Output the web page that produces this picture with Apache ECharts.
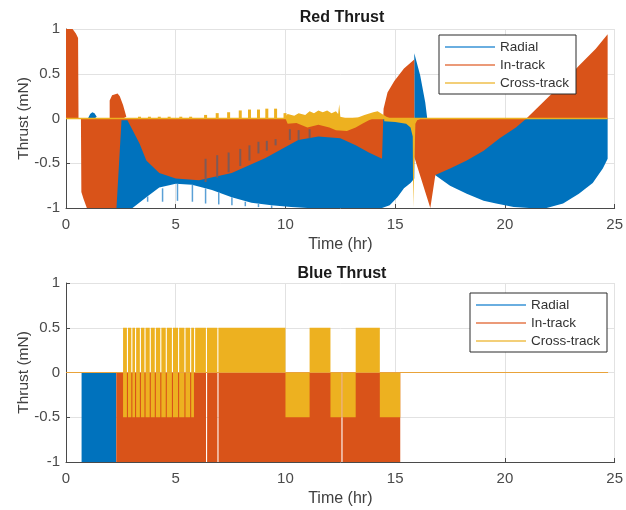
<!DOCTYPE html>
<html><head><meta charset="utf-8">
<script src="https://cdn.jsdelivr.net/npm/echarts@6/dist/echarts.min.js"></script>
<style>html,body{margin:0;padding:0;background:#fff}#c{width:626px;height:510px}</style>
</head><body><div id="c"></div>
<script>
// ---------- Red Thrust (top) : envelopes of the dense thrust traces, null breaks pieces ----------
var redRadialT = [1.0,1.1,1.2,1.3,1.4,1.45, null,
  2.0,2.0,3.03,3.66,4.25,5.0,5.74,6.65,7.55,8.45,9.36,10.26,11.0,14.4,14.47,14.75,15.1,15.4,15.7,15.87,15.87,16.14,16.37,16.46, null,
  16.75,16.75,17.5,18.26,19.03,19.6,20.4,21.1,21.9,22.65,23.37,24.0,24.46,24.68,24.68];
var redRadialV = [0,0.05,0.07,0.06,0.02,0, null,
  0,-1.0,-1.0,-0.88,-0.77,-0.73,-0.74,-0.8,-0.88,-0.94,-0.97,-0.99,-1.0,-1.0,-1.0,-0.97,-0.88,-0.78,-0.72,-0.67,0.73,0.48,0.18,0, null,
  0,-0.62,-0.75,-0.84,-0.92,-0.95,-0.99,-1.0,-1.0,-0.95,-0.84,-0.72,-0.56,-0.45,0];

var redInT = [0,0,0.3,0.45,0.55,0.57, null,
  0.68,0.7,0.8,0.95,2.3,2.53,2.8,3.35,3.66,4.25,5.0,6.06,7.55,9.09,10.58,11.5,12.5,13.2,13.8,14.4,14.47,14.47,14.65,14.96,15.4,15.87,15.87,
  16.6,16.83,17.5,18.26,19.03,19.76,20.5,20.98,21.9,22.65,23.37,24.14,24.68,24.68, null,
  1.99,1.99,2.1,2.35,2.45,2.6,2.75,2.8];
var redInV = [0,1.0,1.0,0.95,0.9,0, null,
  0,-0.82,-0.9,-1.0,-1.0,-0.02,-0.02,-0.28,-0.47,-0.61,-0.67,-0.69,-0.61,-0.44,-0.24,-0.2,-0.22,-0.3,-0.38,-0.45,-0.46,0.11,0.29,0.42,0.56,0.66,-0.43,
  -1.0,-0.63,-0.56,-0.47,-0.36,-0.22,-0.1,0,0.22,0.40,0.59,0.78,0.94,0, null,
  0,0.2,0.26,0.28,0.25,0.15,0.02,0];

var redCrossT = [9.9,10.1,10.4,10.6,10.9,11.1,11.3,11.5,11.7,11.9,12.1,12.3,12.4,12.45,12.5,12.8,13.3,13.6,14.0,14.2,14.4,14.6,14.8, null,
  10.0,10.1,10.5,11.0,11.5,12.0,12.3,12.8,13.2,13.5,13.8,14.0, null,
  14.5,14.5,15.0,15.5,15.7,15.8,15.82,15.9,15.92,16.0,16.2];
var redCrossV = [0,0.05,0.03,0.06,0.04,0.08,0.06,0.09,0.07,0.09,0.06,0.08,0.05,0.16,0.02,0,0.01,0.04,0.07,0.08,0.05,0.02,0, null,
  0,-0.06,-0.05,-0.1,-0.07,-0.1,-0.13,-0.14,-0.1,-0.06,-0.02,0, null,
  0,-0.03,-0.04,-0.06,-0.1,-0.2,-1.0,-1.0,-0.06,-0.02,0];
var redZeroLineT = [0,24.68];

// thin spikes visible in the dense traces
var redYelSpikeT = [3.35,3.8,4.25,4.7,5.23,5.68,6.36,6.89,7.41,7.94,8.36,8.77,9.15,9.55,9.98];
var redYelSpikeH = [0.02,0.02,0.02,0.02,0.02,0.02,0.04,0.06,0.07,0.09,0.1,0.1,0.11,0.11,0.06];
var redDarkSpikeT   = [6.36,6.89,7.41,7.94,8.36,8.77,9.15,9.55,10.2,10.6,11.1];
var redDarkSpikeTop = [-0.45,-0.41,-0.38,-0.34,-0.3,-0.26,-0.25,-0.23,-0.12,-0.13,-0.12];
var redDarkSpikeBot = [-0.71,-0.66,-0.6,-0.53,-0.47,-0.39,-0.36,-0.3,-0.24,-0.24,-0.22];
var redBlueSpikeT   = [3.72,4.4,5.08,5.76,6.36,6.96,7.56,8.17,8.77,9.37];
var redBlueSpikeTop = [-0.87,-0.78,-0.73,-0.74,-0.78,-0.82,-0.88,-0.93,-0.95,-0.97];
var redBlueSpikeBot = [-0.93,-0.93,-0.92,-0.93,-0.95,-0.96,-0.97,-0.98,-0.99,-1.0];

// ---------- Blue Thrust (bottom) : constant-thrust blocks [start, end, value] ----------
var blueRadialStart = [0.71];
var blueRadialEnd   = [2.29];
var blueRadialVal   = [-1];
var blueInStart = [2.29,6.43,6.95,12.6];
var blueInEnd   = [6.38,6.9,12.55,15.23];
var blueInVal   = [-1,-1,-1,-1];
var blueCrossPosBreaks = [2.6,2.8,3.0,3.17,3.39,3.6,3.84,4.07,4.32,4.57,4.85,5.13,5.42,5.68,5.86,6.4,6.92,10.0];
var blueCrossNegBreaks = [2.6,2.8,3.0,3.17,3.39,3.6,3.84,4.07,4.32,4.57,4.85,5.13,5.42,5.68,5.83];
var blueCrossStart = [10.0,11.1,12.05,12.6,13.2,14.3];
var blueCrossEnd   = [11.1,12.05,12.55,13.2,14.3,15.23];
var blueCrossVal   = [-0.5,0.5,-0.5,-0.5,0.5,-0.5];
var blueZeroLineT = [0,24.7];

var xTicks = [0,5,10,15,20,25];
var yTicks = [-1,-0.5,0,0.5,1];

var C_BLUE='#0072BD', C_ORANGE='#D95319', C_YELLOW='#EDB120';
var FONT='"Liberation Sans", Arial, sans-serif';

function pairs(T,V){ return T.map(function(t,i){ return t===null ? ['-','-'] : [t, V[i]]; }); }
function triples(A,B,C){ return A.map(function(a,i){ return [a,B[i],C[i]]; }); }
function stripes(breaks, val, gap){
  var out=[];
  for(var i=0;i<breaks.length-1;i++){
    var s=breaks[i]+(i>0?gap/2:0), e=breaks[i+1]-(i<breaks.length-2?gap/2:0);
    out.push([s,e,val]);
  }
  return out;
}

function areaSeries(name, T, V, color, gi, z){
  return {name:name, type:'line', xAxisIndex:gi, yAxisIndex:gi, z:z, data:pairs(T,V), showSymbol:false, symbol:'none',
    connectNulls:false, animation:false, silent:true,
    lineStyle:{color:color, width:0, opacity:0}, itemStyle:{color:color}, areaStyle:{color:color, opacity:1, origin:0}};
}
function lineSeries(name, T, color, width, gi, z){
  return {name:name, type:'line', xAxisIndex:gi, yAxisIndex:gi, z:z, data:T.map(function(t){return [t,0];}), symbol:'none',
    animation:false, silent:true, lineStyle:{color:color, width:width}};
}
function rectSeries(name, data, color, gi, z){
  return {name:name, type:'custom', xAxisIndex:gi, yAxisIndex:gi, z:z, data:data, encode:{x:[0,1], y:2}, animation:false, silent:true,
    itemStyle:{color:color},
    renderItem:function(params, api){
      var p0=api.coord([api.value(0),0]), p1=api.coord([api.value(1),api.value(2)]);
      return {type:'rect', shape:{x:Math.min(p0[0],p1[0]), y:Math.min(p0[1],p1[1]), width:Math.abs(p1[0]-p0[0]), height:Math.abs(p1[1]-p0[1])},
        style:{fill:color}};
    }};
}
function spikeSeries(name, data, color, width, gi, z){
  return {name:name, type:'custom', xAxisIndex:gi, yAxisIndex:gi, z:z, data:data, encode:{x:0, y:[1,2]}, animation:false, silent:true,
    renderItem:function(params, api){
      var a=api.coord([api.value(0),api.value(1)]), b=api.coord([api.value(0),api.value(2)]);
      return {type:'line', shape:{x1:a[0],y1:a[1],x2:b[0],y2:b[1]}, style:{stroke:color, lineWidth:width}};
    }};
}

function xAxis(gi){
  return {type:'value', gridIndex:gi, min:0, max:25, interval:5, name:'Time (hr)', nameLocation:'middle', nameGap:29,
    nameMoveOverlap:false,
    nameTextStyle:{fontSize:16, color:'#404040', fontFamily:FONT},
    axisLine:{show:true, onZero:false, lineStyle:{color:'#4a4a4a', width:1}},
    axisTick:{show:true, inside:true, length:4, lineStyle:{color:'#4a4a4a'}},
    axisLabel:{fontSize:15, color:'#4a4a4a', margin:9, fontFamily:FONT},
    splitLine:{show:true, lineStyle:{color:'#e2e2e2', width:1}}};
}
function yAxis(gi){
  return {type:'value', gridIndex:gi, min:-1, max:1, interval:0.5, name:'Thrust (mN)', nameLocation:'middle', nameGap:34, nameRotate:90,
    nameMoveOverlap:false,
    nameTextStyle:{fontSize:15.5, color:'#404040', fontFamily:FONT},
    axisLine:{show:true, onZero:false, lineStyle:{color:'#4a4a4a', width:1}},
    axisTick:{show:true, inside:true, length:4, lineStyle:{color:'#4a4a4a'}},
    axisLabel:{fontSize:15, color:'#4a4a4a', margin:6, fontFamily:FONT},
    splitLine:{show:true, lineStyle:{color:'#e2e2e2', width:1}}};
}
function legend(left, top){
  return {orient:'vertical', left:left, top:top, itemWidth:50, itemHeight:2, itemGap:4, icon:'rect', z:10,
    padding:[5,7,4,6], borderColor:'#2b2b2b', borderWidth:1, backgroundColor:'#fff', borderRadius:0,
    textStyle:{fontSize:13.5, color:'#333', fontFamily:FONT},
    selectedMode:false,
    data:[{name:'Radial', itemStyle:{color:'#6aaee0'}}, {name:'In-track', itemStyle:{color:'#eb9a78'}}, {name:'Cross-track', itemStyle:{color:'#f3cf78'}}]};
}

var series = [
  // top
  areaSeries('Radial', redRadialT, redRadialV, C_BLUE, 0, 2),
  spikeSeries('rs', triples(redBlueSpikeT, redBlueSpikeTop, redBlueSpikeBot), '#5aa0d6', 1.5, 0, 2),
  areaSeries('In-track', redInT, redInV, C_ORANGE, 0, 3),
  spikeSeries('ds', triples(redDarkSpikeT, redDarkSpikeTop, redDarkSpikeBot), '#7d5a58', 2, 0, 4),
  areaSeries('Cross-track', redCrossT, redCrossV, C_YELLOW, 0, 5),
  lineSeries('zl0', redZeroLineT, C_YELLOW, 1.3, 0, 5),
  spikeSeries('ys', triples(redYelSpikeT, redYelSpikeT.map(function(){return 0;}), redYelSpikeH), C_YELLOW, 3, 0, 5),
  // bottom
  rectSeries('Radial', triples(blueRadialStart, blueRadialEnd, blueRadialVal), C_BLUE, 1, 2),
  rectSeries('In-track', triples(blueInStart, blueInEnd, blueInVal), C_ORANGE, 1, 3),
  rectSeries('Cross-track', stripes(blueCrossPosBreaks, 0.5, 0.05).concat(stripes(blueCrossNegBreaks, -0.5, 0.05))
      .concat(triples(blueCrossStart, blueCrossEnd, blueCrossVal)), C_YELLOW, 1, 4),
  lineSeries('zl1', blueZeroLineT, '#E9A33A', 1.2, 1, 5)
];

var chart = echarts.init(document.getElementById('c'), null, {renderer:'canvas'});
chart.setOption({
  backgroundColor:'#fff',
  animation:false,
  title:[
    {text:'Red Thrust', left:337, top:5, textAlign:'center', textStyle:{fontSize:16, fontWeight:'bold', color:'#1a1a1a', fontFamily:FONT}},
    {text:'Blue Thrust', left:337, top:261, textAlign:'center', textStyle:{fontSize:16, fontWeight:'bold', color:'#1a1a1a', fontFamily:FONT}}
  ],
  grid:[
    {left:66, top:29, width:553, height:179, containLabel:false},
    {left:66, top:283, width:553, height:179, containLabel:false}
  ],
  xAxis:[xAxis(0), xAxis(1)],
  yAxis:[yAxis(0), yAxis(1)],
  legend:[legend(439,35), legend(470,293)],
  series:series
});
</script>
</body></html>
